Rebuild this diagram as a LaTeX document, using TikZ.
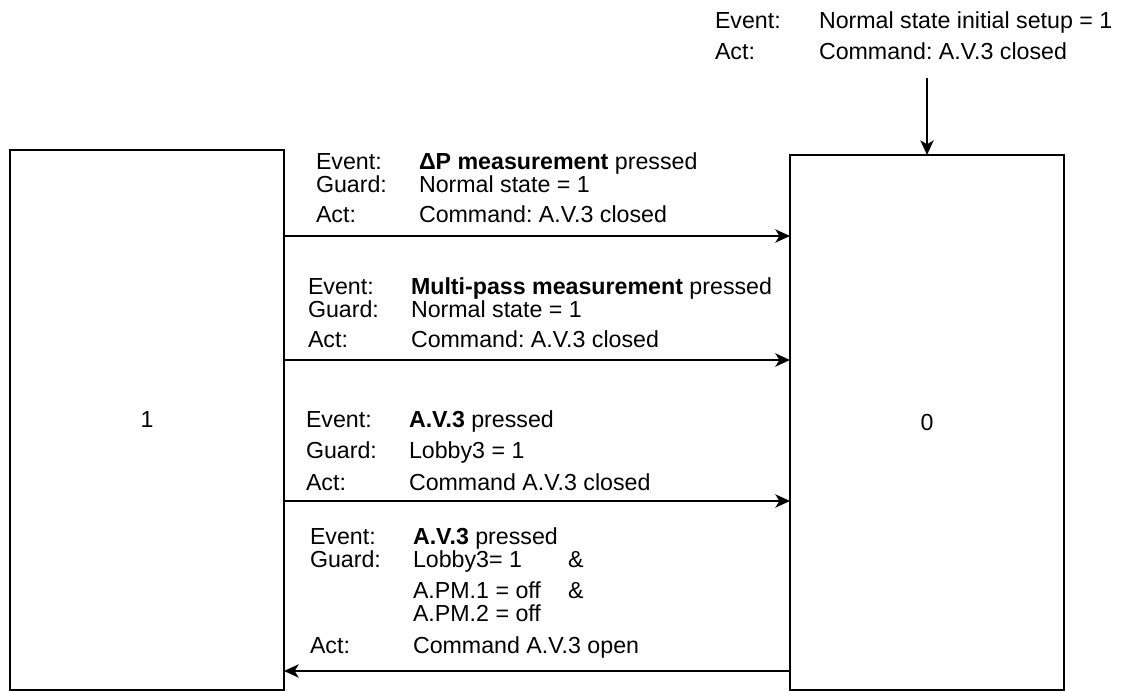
\documentclass[tikz,border=0pt]{standalone}
\usepackage{fontspec}
\setmainfont{Liberation Sans}
\frenchspacing
\usetikzlibrary{arrows.meta}
\begin{document}
\begin{tikzpicture}[x=0.75pt,y=-0.75pt,
  every node/.style={font=\fontsize{17.4pt}{20pt}\selectfont, inner sep=0pt, outer sep=0pt},
  state/.style={draw=black, line width=1.5pt, fill=white},
  lbl/.style={anchor=base west},
  arr/.style={draw=black, line width=1.1pt, -{Stealth[length=11pt, width=10pt, inset=3pt]}}]
\useasboundingbox (0,0) rectangle (1124,691);

% the two states
\node[state, minimum width=205.5pt, minimum height=405pt] (L) at (147,420) {1};
\node[state, minimum width=205.5pt, minimum height=401.25pt] (R) at (927,422.5) {0};

% initial transition into state 0
\coordinate (init) at (927,78);
\draw[arr] (init) -- (R.north);
\node[lbl] (t0e) at (715,29) {Event:};
\node[lbl] (t0ev) at (819,29) {Normal state initial setup = 1};
\node[lbl] (t0a) at (715,60) {Act:};
\node[lbl] (t0av) at (819,60) {Command: A.V.3 closed};

% heights of the transitions
\coordinate (y1) at (0,236);
\coordinate (y2) at (0,360);
\coordinate (y3) at (0,501);
\coordinate (y4) at (0,671);

% transition 1
\draw[arr] (L.east |- y1) -- (R.west |- y1);
\node[lbl] (t1e) at (316,170) {Event:};
\node[lbl] (t1ev) at (419,170) {\textbf{ΔP measurement} pressed};
\node[lbl] (t1g) at (316,193) {Guard:};
\node[lbl] (t1gv) at (419,193) {Normal state = 1};
\node[lbl] (t1a) at (316,223) {Act:};
\node[lbl] (t1av) at (419,223) {Command: A.V.3 closed};

% transition 2
\draw[arr] (L.east |- y2) -- (R.west |- y2);
\node[lbl] (t2e) at (308,295) {Event:};
\node[lbl] (t2ev) at (411,295) {\textbf{Multi-pass measurement} pressed};
\node[lbl] (t2g) at (308,318) {Guard:};
\node[lbl] (t2gv) at (411,318) {Normal state = 1};
\node[lbl] (t2a) at (308,348) {Act:};
\node[lbl] (t2av) at (411,348) {Command: A.V.3 closed};

% transition 3
\draw[arr] (L.east |- y3) -- (R.west |- y3);
\node[lbl] (t3e) at (306,427) {Event:};
\node[lbl] (t3ev) at (409,427) {\textbf{A.V.3} pressed};
\node[lbl] (t3g) at (306,458) {Guard:};
\node[lbl] (t3gv) at (409,458) {Lobby3 = 1};
\node[lbl] (t3a) at (306,490) {Act:};
\node[lbl] (t3av) at (409,490) {Command A.V.3 closed};

% transition 4 (back to state 1)
\draw[arr] (R.west |- y4) -- (L.east |- y4);
\node[lbl] (t4e) at (310,544) {Event:};
\node[lbl] (t4ev) at (413,544) {\textbf{A.V.3} pressed};
\node[lbl] (t4g) at (310,567) {Guard:};
\node[lbl] (t4gv1) at (413,567) {Lobby3= 1};
\node[lbl] (t4amp1) at (568,567) {\&};
\node[lbl] (t4gv2) at (413,598) {A.PM.1 = off};
\node[lbl] (t4amp2) at (568,598) {\&};
\node[lbl] (t4gv3) at (413,621) {A.PM.2 = off};
\node[lbl] (t4a) at (310,653) {Act:};
\node[lbl] (t4av) at (413,653) {Command A.V.3 open};
\end{tikzpicture}
\end{document}
